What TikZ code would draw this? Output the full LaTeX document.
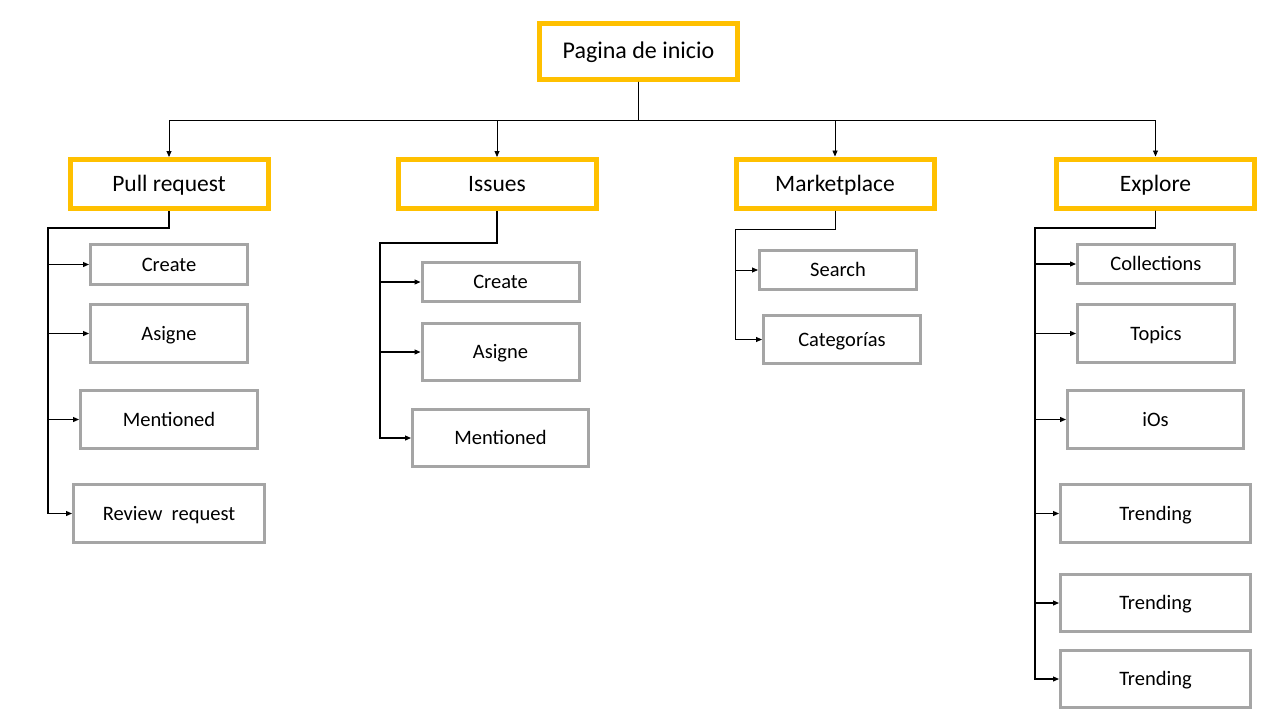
\documentclass[tikz,border=0pt]{standalone}
\usepackage{fontspec}
\setmainfont{Carlito}
\usetikzlibrary{arrows.meta}
\definecolor{ygold}{HTML}{FFC000}
\definecolor{boxgray}{HTML}{A5A5A5}
\begin{document}
\begin{tikzpicture}[x=1pt,y=-1pt,
  parent/.style={draw=ygold,line width=5pt,fill=white,rectangle,inner sep=0pt,
    minimum width=198pt,minimum height=49pt,text height=18.9pt,text depth=3.8pt,
    font=\fontsize{23.5}{28}\selectfont},
  child/.style={draw=boxgray,line width=3pt,fill=white,rectangle,inner sep=0pt,
    minimum width=157pt,text height=16.5pt,text depth=3.3pt,
    font=\fontsize{20.5}{24}\selectfont},
  arr/.style={draw=black,line width=0.8pt,-{Triangle[length=6pt,width=5pt]}},
  trunk/.style={draw=black,line width=1.2pt,-{Triangle[length=6pt,width=5pt]}}]
\useasboundingbox[fill=white] (0,0) rectangle (1280,720);

\node[parent,minimum height=56pt,text height=19.3pt,font=\fontsize{24}{28}\selectfont] (root) at (638.5,51) {Pagina de inicio};

\node[parent] (pr) at (169,184) {Pull request};
\node[parent] (is) at (497,184) {Issues};
\node[parent] (mk) at (835,183.5) {Marketplace};
\node[parent] (ex) at (1155.5,183.5) {Explore};

\draw[arr] (root.south) -- ++(0,39) -| (pr.north);
\draw[arr] (root.south) -- ++(0,39) -| (is.north);
\draw[arr] (root.south) -- ++(0,39) -| (mk.north);
\draw[arr] (root.south) -- ++(0,39) -| (ex.north);

% Pull request children
\node[child,minimum height=40pt] (pr1) at (169,264.5) {Create};
\node[child,minimum height=58pt] (pr2) at (169,333.5) {Asigne};
\node[child,minimum width=177pt,minimum height=58pt] (pr3) at (169,419.5) {Mentioned};
\node[child,minimum width=191pt,minimum height=58pt] (pr4) at (169,513.5) {Review\ \ request};
\coordinate (prbus) at (48,228);
\foreach \c in {pr1,pr2,pr3,pr4} \draw[trunk] (pr.south) |- (prbus) |- (\c.west);

% Issues children
\node[child,minimum height=39pt] (is1) at (500.5,282) {Create};
\node[child,minimum height=57pt] (is2) at (500.5,352) {Asigne};
\node[child,minimum width=176pt,minimum height=57pt] (is3) at (500.5,438) {Mentioned};
\coordinate (isbus) at (380,243);
\foreach \c in {is1,is2,is3} \draw[trunk] (is.south) |- (isbus) |- (\c.west);

% Marketplace children
\node[child,minimum height=39pt] (mk1) at (838,270) {Search};
\node[child,minimum height=48pt] (mk2) at (842,339.5) {Categorías};
\coordinate (mkbus) at (735,229);
\foreach \c in {mk1,mk2} \draw[arr] (mk.south) |- (mkbus) |- (\c.west);

% Explore children
\node[child,minimum height=39pt] (ex1) at (1156,264) {Collections};
\node[child,minimum height=58pt] (ex2) at (1156,333.5) {Topics};
\node[child,minimum width=176pt,minimum height=58pt] (ex3) at (1155.5,419.5) {iOs};
\node[child,minimum width=190pt,minimum height=58pt] (ex4) at (1155.5,513.5) {Trending};
\node[child,minimum width=190pt,minimum height=57pt] (ex5) at (1155.5,603) {Trending};
\node[child,minimum width=190pt,minimum height=57pt] (ex6) at (1155.5,679) {Trending};
\coordinate (exbus) at (1035,228);
\foreach \c in {ex1,ex2,ex3,ex4,ex5,ex6} \draw[trunk] (ex.south) |- (exbus) |- (\c.west);
\end{tikzpicture}
\end{document}
